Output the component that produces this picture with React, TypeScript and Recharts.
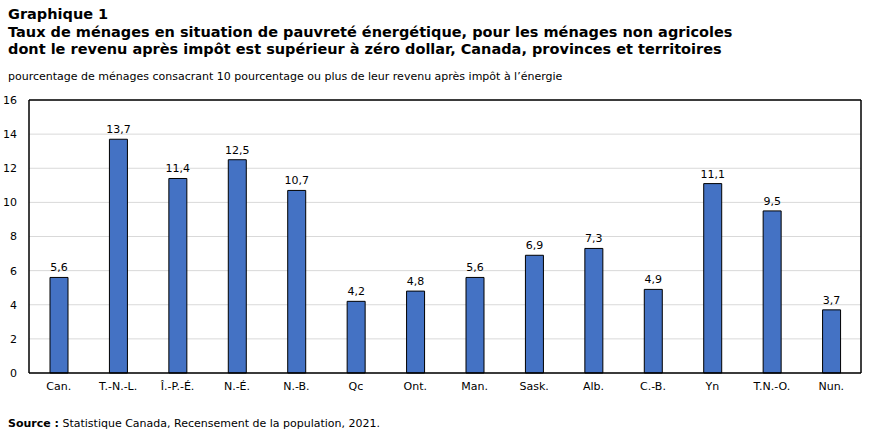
import { BarChart, Bar, XAxis, YAxis, CartesianGrid, LabelList, ReferenceLine } from 'recharts';

const regions = ['Can.', 'T.-N.-L.', 'Î.-P.-É.', 'N.-É.', 'N.-B.', 'Qc', 'Ont.', 'Man.', 'Sask.', 'Alb.', 'C.-B.', 'Yn', 'T.N.-O.', 'Nun.'];
const rates = [5.6, 13.7, 11.4, 12.5, 10.7, 4.2, 4.8, 5.6, 6.9, 7.3, 4.9, 11.1, 9.5, 3.7];
const yTicks = [0, 2, 4, 6, 8, 10, 12, 14, 16];

const data = regions.map((name, i) => ({ name, value: rates[i] }));

const FONT = 'Verdana, "DejaVu Sans", sans-serif';
const fmt = (v: any) => String(v).replace('.', ',');

export default function App() {
  return (
    <div style={{ position: 'absolute', left: 0, top: 0, width: 870, height: 436, background: '#fff', fontFamily: FONT, color: '#000' }}>
      <div style={{ position: 'absolute', left: 8, top: 6, fontSize: 14.5, fontWeight: 'bold', lineHeight: '17.5px', whiteSpace: 'nowrap' }}>
        <div>Graphique 1</div>
        <div>Taux de ménages en situation de pauvreté énergétique, pour les ménages non agricoles</div>
        <div>dont le revenu après impôt est supérieur à zéro dollar, Canada, provinces et territoires</div>
      </div>
      <div style={{ position: 'absolute', left: 8, top: 70, fontSize: 11, whiteSpace: 'nowrap' }}>
        pourcentage de ménages consacrant 10 pourcentage ou plus de leur revenu après impôt à l’énergie
      </div>
      <div style={{ position: 'absolute', left: 0, top: 0 }}>
        <BarChart width={870} height={436} data={data} margin={{ top: 100, right: 8, left: 8, bottom: 33 }}>
          <CartesianGrid vertical={false} stroke="#d9d9d9" />
          <XAxis
            dataKey="name"
            axisLine={{ stroke: '#000', strokeWidth: 1.5 }}
            tickLine={false}
            interval={0}
            height={30}
            tick={{ fontSize: 11, fill: '#000', fontFamily: FONT }}
            dy={1}
          />
          <YAxis
            domain={[0, 16]}
            ticks={yTicks}
            width={21}
            axisLine={{ stroke: '#000', strokeWidth: 1.5 }}
            tickLine={false}
            tick={{ fontSize: 11, fill: '#000', fontFamily: FONT }}
            dx={-4}
          />
          <YAxis yAxisId="right" orientation="right" domain={[0, 16]} width={1} tick={false} tickLine={false} axisLine={{ stroke: '#000', strokeWidth: 1.5 }} />
          {/* top edge of the frame */}
          <ReferenceLine y={16} stroke="#000" strokeWidth={1.5} />
          <Bar dataKey="value" fill="#4472c4" stroke="#000" strokeWidth={1} barSize={18} isAnimationActive={false}>
            <LabelList dataKey="value" position="top" offset={6} formatter={fmt} style={{ fontSize: 11, fill: '#000', fontFamily: FONT }} />
          </Bar>
        </BarChart>
      </div>
      <div style={{ position: 'absolute', left: 8, top: 417, fontSize: 11, whiteSpace: 'nowrap' }}>
        <b>Source :</b> Statistique Canada, Recensement de la population, 2021.
      </div>
    </div>
  );
}
